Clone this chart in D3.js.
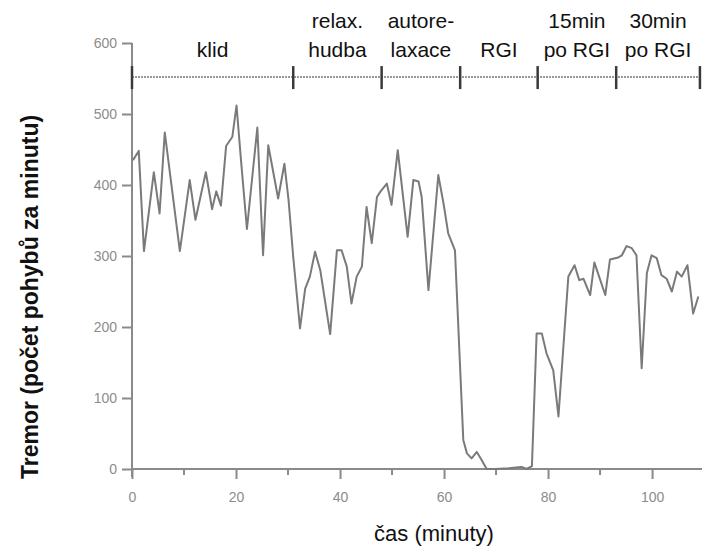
<!DOCTYPE html>
<html>
<head>
<meta charset="utf-8">
<script src="https://cdn.jsdelivr.net/npm/d3@7"></script>
<style>
  body { margin: 0; background: #fff; }
  text { font-family: "Liberation Sans", Arial, sans-serif; }
</style>
</head>
<body>
<div id="chart"></div>
<script>
// time (minutes) and tremor values
var minutes = [0.2, 1.3, 2.3, 4.2, 5.3, 6.3, 9.2, 11.1, 12.2, 14.2, 15.4, 16.2, 17.1, 18.1, 19.3, 20.1, 20.9, 22.1,
  24.1, 25.2, 26.2, 28.1, 29.3, 30.1, 31.0, 32.3, 33.3, 34.2, 35.2, 36.2, 38.1, 39.4, 40.3, 41.3, 42.2, 43.2,
  44.2, 45.1, 46.1, 47.1, 47.8, 49.0, 49.9, 51.1, 53.0, 54.1, 55.1, 55.7, 57.0, 58.9, 59.9, 60.8, 62.1, 63.7,
  64.4, 65.3, 66.3, 67.2, 68.2, 69.8, 72.4, 74.9, 75.9, 76.9, 77.8, 78.8, 79.7, 81.0, 82.0, 83.9, 85.1, 86.0,
  86.8, 88.1, 88.9, 91.0, 91.9, 93.5, 94.2, 95.1, 96.1, 97.0, 98.0, 99.0, 99.9, 100.9, 101.8, 102.8, 103.8,
  104.8, 105.7, 106.8, 107.9, 108.9];
var tremor = [435, 448, 307, 418, 360, 474, 307, 407, 351, 418, 366, 391, 371, 455, 468, 512, 440, 338,
  481, 301, 456, 381, 430, 379, 299, 198, 254, 271, 306, 280, 190, 308, 308, 285, 233, 271,
  285, 369, 318, 383, 391, 402, 372, 449, 327, 407, 405, 383, 252, 414, 374, 332, 308, 41,
  22, 15, 24, 13, 0, 0, 1, 3, 0, 4, 191, 191, 163, 139, 74, 271, 287, 266,
  268, 245, 291, 245, 295, 298, 301, 314, 311, 301, 142, 276, 301, 297, 273, 268, 250,
  278, 271, 287, 219, 243];

// phases shown in the band above the plot
var phaseBounds = [0, 31, 48, 63.1, 78, 93.1, 109.2];
var phaseLabels = [["klid"], ["relax.", "hudba"], ["autore-", "laxace"], ["RGI"], ["15min", "po RGI"], ["30min", "po RGI"]];

var yTicks = [0, 100, 200, 300, 400, 500, 600];
var xMajor = [0, 20, 40, 60, 80, 100];
var xMinor = [10, 30, 50, 70, 90, 110];

var width = 702, height = 551;

var svg = d3.select("#chart").append("svg")
  .attr("width", width)
  .attr("height", height);

var x = d3.scaleLinear().domain([0, 109.6]).range([132, 702]);
var y = d3.scaleLinear().domain([0, 600]).range([469, 43]);

var data = minutes.map(function(m, i) { return { t: m, v: tremor[i] }; });

// y axis
var yAxis = d3.axisLeft(y).tickValues(yTicks).tickSize(10).tickPadding(5);
var gy = svg.append("g")
  .attr("transform", "translate(" + x(0) + ",0)")
  .call(yAxis);
gy.select(".domain").remove();
gy.append("line")
  .attr("x1", 0).attr("x2", 0)
  .attr("y1", y(600)).attr("y2", y(0) + 8)
  .attr("stroke", "#8a8a8a").attr("stroke-width", 2);
gy.selectAll(".tick line").attr("stroke", "#8a8a8a").attr("stroke-width", 2);
gy.selectAll(".tick text")
  .attr("fill", "#8c8c8c")
  .style("font-size", "14px");

// x axis
var xAxis = d3.axisBottom(x).tickValues(xMajor).tickSize(10).tickPadding(13);
var gx = svg.append("g")
  .attr("transform", "translate(0," + y(0) + ")")
  .call(xAxis);
gx.select(".domain").remove();
gx.append("line")
  .attr("x1", x(0)).attr("x2", width)
  .attr("y1", 0).attr("y2", 0)
  .attr("stroke", "#8a8a8a").attr("stroke-width", 2);
gx.selectAll(".tick line").attr("stroke", "#8a8a8a").attr("stroke-width", 2);
gx.selectAll(".tick text")
  .attr("fill", "#8c8c8c")
  .style("font-size", "14px");
gx.selectAll(".minor")
  .data(xMinor)
  .enter().append("line")
  .attr("class", "minor")
  .attr("x1", d => x(d)).attr("x2", d => x(d))
  .attr("y1", 0).attr("y2", 6)
  .attr("stroke", "#8a8a8a").attr("stroke-width", 2);

// the tremor line
var line = d3.line()
  .x(d => x(d.t))
  .y(d => y(d.v));

svg.append("path")
  .datum(data)
  .attr("d", line)
  .attr("fill", "none")
  .attr("stroke", "#7a7a7a")
  .attr("stroke-width", 2)
  .attr("stroke-linejoin", "round");

// phase band
var bandY = y(552);
svg.append("line")
  .attr("x1", x(0)).attr("x2", width)
  .attr("y1", bandY).attr("y2", bandY)
  .attr("stroke", "#777")
  .attr("stroke-width", 1.5)
  .attr("stroke-dasharray", "2,1");

svg.selectAll(".marker")
  .data(phaseBounds)
  .enter().append("line")
  .attr("class", "marker")
  .attr("x1", d => x(d)).attr("x2", d => x(d))
  .attr("y1", bandY - 11).attr("y2", bandY + 12)
  .attr("stroke", "#3a3a3a")
  .attr("stroke-width", 2.5);

var labels = svg.selectAll(".phase")
  .data(phaseLabels)
  .enter().append("text")
  .attr("class", "phase")
  .attr("text-anchor", "middle")
  .attr("fill", "#111")
  .style("font-size", "21px")
  .attr("transform", function(d, i) {
    var cx = x((phaseBounds[i] + phaseBounds[i + 1]) / 2);
    return "translate(" + cx + ",57)";
  });

labels.selectAll("tspan")
  .data(d => d)
  .enter().append("tspan")
  .attr("x", 0)
  .attr("y", function(d, i, nodes) { return (i - nodes.length + 1) * 29; })
  .text(d => d);

// axis titles
svg.append("text")
  .attr("x", 434)
  .attr("y", 541)
  .attr("text-anchor", "middle")
  .attr("fill", "#111")
  .style("font-size", "22px")
  .text("čas (minuty)");

svg.append("text")
  .attr("transform", "translate(38,297) rotate(-90)")
  .attr("text-anchor", "middle")
  .attr("fill", "#111")
  .style("font-size", "23px")
  .style("font-weight", "bold")
  .text("Tremor (počet pohybů za minutu)");
</script>
</body>
</html>
